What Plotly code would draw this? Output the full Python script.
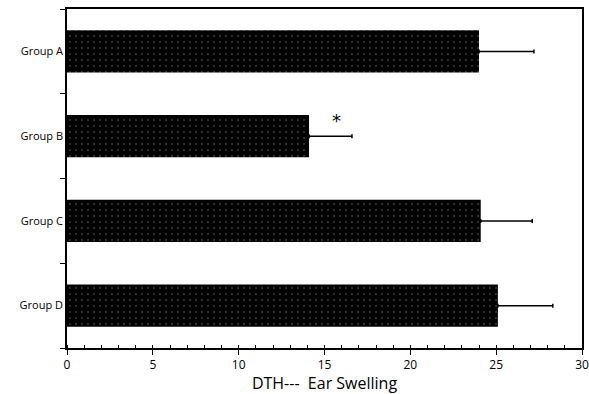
import plotly.graph_objects as go

groups = ["Group A", "Group B", "Group C", "Group D"]
values = [24.0, 14.1, 24.1, 25.1]
errors = [3.2, 2.5, 3.0, 3.2]
star_group = "Group B"
star_x = 15.7
x_title = "DTH---  Ear Swelling"

fig = go.Figure()
fig.add_trace(go.Bar(
    y=groups, x=values, orientation="h", width=0.5,
    marker=dict(color="black", line=dict(width=0),
                pattern=dict(shape=".", fgcolor="#808080", bgcolor="black",
                             size=6, solidity=0.08)),
    error_x=dict(type="data", array=errors, arrayminus=[0]*len(errors),
                 symmetric=False, color="black", thickness=1.5, width=2),
))
fig.add_annotation(x=star_x, y=star_group, text="*", showarrow=False,
                   yshift=16, font=dict(size=18, color="black", family="DejaVu Sans"))

fig.update_layout(
    width=589, height=394,
    margin=dict(l=67, r=7, t=9, b=46, autoexpand=False),
    paper_bgcolor="white", plot_bgcolor="white",
    showlegend=False,
    font=dict(family="Open Sans", color="black"),
    xaxis=dict(range=[0, 30], dtick=5, showgrid=False, zeroline=False,
               showline=True, linecolor="black", linewidth=1.5, mirror=True,
               ticks="outside", ticklen=5, tickcolor="black", automargin=False,
               minor=dict(dtick=1, ticks="inside", ticklen=3, tickcolor="black"),
               tickfont=dict(size=12),
               title=dict(text=x_title, font=dict(size=16), standoff=2)),
    yaxis=dict(categoryorder="array", categoryarray=groups[::-1], automargin=False,
               showgrid=False, zeroline=False, showline=True, linecolor="black",
               linewidth=1.5, mirror=True, ticks="outside", tickson="boundaries",
               ticklen=5, tickcolor="black", tickfont=dict(size=11)),
)
fig.write_html("out.html", config={"displayModeBar": False},
               post_script="document.body.style.margin='0';")
